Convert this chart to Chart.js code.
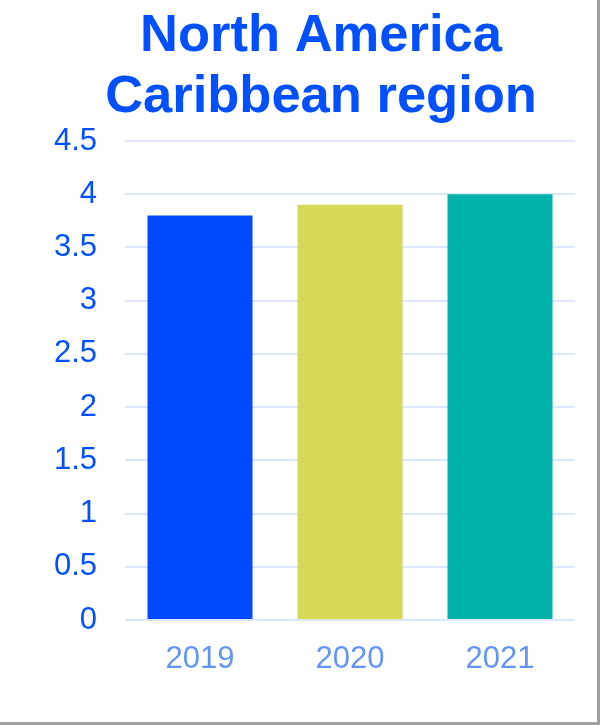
<!DOCTYPE html>
<html>
<head>
<meta charset="utf-8">
<script src="https://cdn.jsdelivr.net/npm/chart.js@4"></script>
<style>
  html, body { margin: 0; padding: 0; background: #ffffff; }
  #wrap { position: absolute; left: 0; top: 0; width: 597px; height: 722px; background: #fff;
          border-right: 3px solid #a0a0a0; border-bottom: 3px solid #a0a0a0; }
  canvas { display: block; }
</style>
</head>
<body>
<div id="wrap"><canvas id="c" width="597" height="722"></canvas></div>
<script>
const categories = ["2019", "2020", "2021"];
const values = [3.8, 3.9, 4.0];
const barColors = ["#0049ff", "#d4d855", "#00b2aa"];
const titleLines = ["North America", "Caribbean region"];
const yMin = 0, yMax = 4.5, yStep = 0.5;

const titlePlugin = {
  id: "customTitle",
  afterDraw(chart) {
    const ctx = chart.ctx;
    ctx.save();
    ctx.fillStyle = "#0050ff";
    ctx.font = "bold 52.5px 'Liberation Sans', Arial, sans-serif";
    ctx.textAlign = "center";
    ctx.textBaseline = "alphabetic";
    ctx.fillText(titleLines[0], 321, 51);
    ctx.fillText(titleLines[1], 321, 112);
    ctx.restore();
  }
};

new Chart(document.getElementById("c"), {
  type: "bar",
  data: {
    labels: categories,
    datasets: [{
      data: values,
      backgroundColor: barColors,
      borderWidth: 0,
      barPercentage: 0.7,
      categoryPercentage: 1.0
    }]
  },
  plugins: [titlePlugin],
  options: {
    responsive: false,
    animation: false,
    devicePixelRatio: 1,
    layout: { padding: { top: 141, right: 22, bottom: 0, left: 0 } },
    plugins: {
      legend: { display: false },
      tooltip: { enabled: false },
      title: { display: false }
    },
    scales: {
      x: {
        grid: { display: false, drawTicks: false },
        border: { display: false },
        ticks: {
          color: "#6494f5",
          font: { family: "'Liberation Sans', Arial, sans-serif", size: 31 },
          padding: 21
        },
        afterFit(scale) { scale.height = 102; }
      },
      y: {
        min: yMin,
        max: yMax,
        grid: { color: "#dde7fb", lineWidth: 2, drawTicks: false },
        border: { display: false },
        ticks: {
          stepSize: yStep,
          color: "#0050ff",
          font: { family: "'Liberation Sans', Arial, sans-serif", size: 31 },
          padding: 28,
          callback: (v) => String(v)
        },
        afterFit(scale) { scale.width = 125; }
      }
    }
  }
});
</script>
</body>
</html>
